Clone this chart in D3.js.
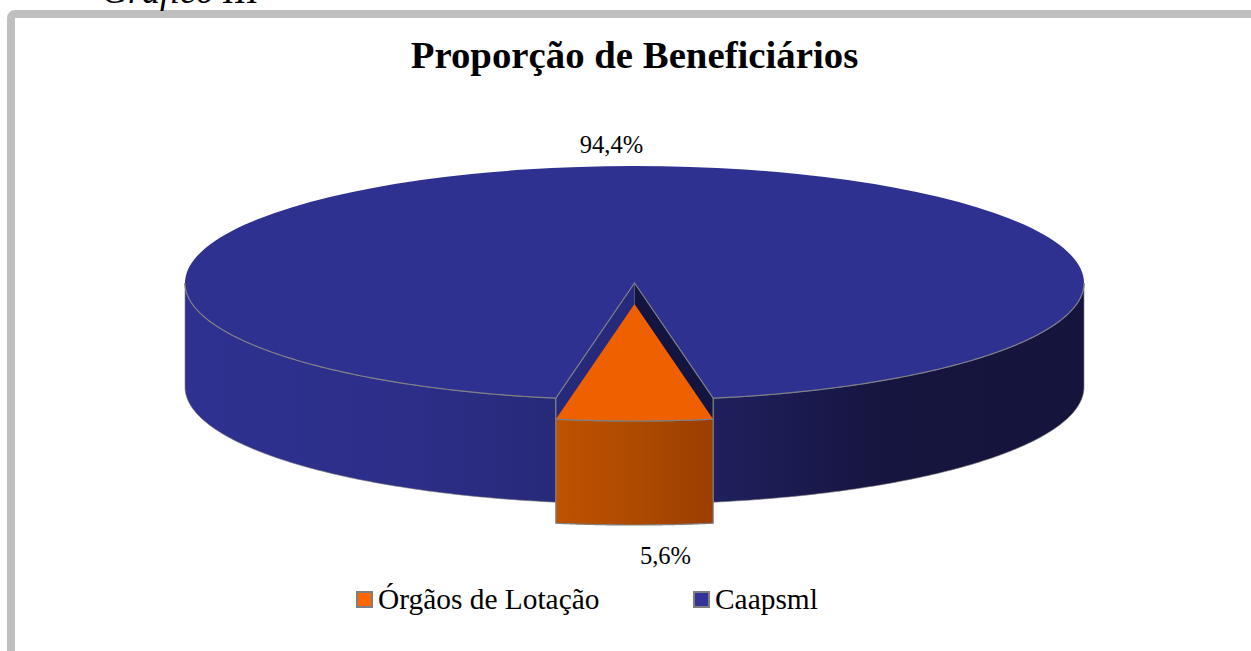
<!DOCTYPE html>
<html>
<head>
<meta charset="utf-8">
<script src="https://cdnjs.cloudflare.com/ajax/libs/d3/7.8.5/d3.min.js"></script>
<style>
html, body { margin: 0; padding: 0; background: #fff; overflow: hidden; }
text { font-family: "Liberation Serif", serif; fill: #000; }
</style>
</head>
<body>
<svg id="chart"></svg>
<script>
var width = 1251,
    height = 651;

var chartTitle = "Proporção de Beneficiários";
var captionText = "Gráfico III";
var categories = ["Órgãos de Lotação", "Caapsml"];
var values = [5.6, 94.4];
var topColors = ["#ef6000", "#2e3190"];
var legendColors = ["#ff6600", "#333399"];

var depth = 104,
    explode = 21;

var svg = d3.select("#chart")
    .attr("width", width)
    .attr("height", height);

// ellipse of the pie top, unit circle -> pixels
var xScale = d3.scaleLinear().domain([-1, 1]).range([185, 1084]);
var yScale = d3.scaleLinear().domain([-1, 1]).range([166, 400]);

// slice of orange sits centered at the bottom
var share = values[0] / d3.sum(values) * 2 * Math.PI;
var pie = d3.pie().sort(null).value(function(d) { return d; })
    .startAngle(Math.PI - share / 2)
    .endAngle(3 * Math.PI - share / 2);
var slices = pie(values);

function px(a) { return xScale(Math.sin(a)); }
function py(a) { return yScale(-Math.cos(a)); }

function rimPoints(a0, a1, dy) {
    return d3.range(0, 121).map(function(i) {
        var a = a0 + (a1 - a0) * i / 120;
        return [px(a), py(a) + dy];
    });
}

var line = d3.line();

var defs = svg.append("defs");

var blueGrad = defs.append("linearGradient")
    .attr("id", "sideBlue")
    .attr("gradientUnits", "userSpaceOnUse")
    .attr("x1", xScale(-1)).attr("x2", xScale(1))
    .attr("y1", 0).attr("y2", 0);
[[0, "#2e3190"], [0.25, "#2c2e88"], [0.41, "#272a79"], [0.59, "#201f5e"], [0.78, "#15153f"], [1, "#14143c"]].forEach(function(s) {
    blueGrad.append("stop").attr("offset", s[0]).attr("stop-color", s[1]);
});

// orange slice runs from endAngle (left) to startAngle (right)
var orangeGrad = defs.append("linearGradient")
    .attr("id", "sideOrange")
    .attr("gradientUnits", "userSpaceOnUse")
    .attr("x1", px(slices[0].endAngle)).attr("x2", px(slices[0].startAngle))
    .attr("y1", 0).attr("y2", 0);
orangeGrad.append("stop").attr("offset", 0).attr("stop-color", "#bf5300");
orangeGrad.append("stop").attr("offset", 0.5).attr("stop-color", "#ae4a00");
orangeGrad.append("stop").attr("offset", 1).attr("stop-color", "#9b3e00");

// grey frame, runs off the right and bottom of the picture
svg.append("rect")
    .attr("x", 11).attr("y", 14)
    .attr("width", width + 40).attr("height", height + 40)
    .attr("rx", 4)
    .attr("fill", "#fff")
    .attr("stroke", "#bfbfbf")
    .attr("stroke-width", 8);

svg.append("text")
    .attr("x", 102).attr("y", 3)
    .attr("font-size", 36)
    .attr("font-style", "italic")
    .text(captionText);

svg.append("text")
    .attr("x", 634.5).attr("y", 68)
    .attr("text-anchor", "middle")
    .attr("font-size", 38.8)
    .attr("font-weight", "bold")
    .text(chartTitle);

var main = slices[1],
    small = slices[0];
var cx = xScale(0), cy = yScale(0);

// front wall of the big slice, left and right of the gap
function band(a0, a1, dy, fill) {
    var upper = rimPoints(a0, a1, dy);
    var lower = rimPoints(a1, a0, dy + depth);
    svg.append("path")
        .attr("d", line(upper.concat(lower)) + "Z")
        .attr("fill", fill)
        .attr("stroke", "#7f7f7f")
        .attr("stroke-opacity", 0.6)
        .attr("stroke-width", 1);
}
band(small.endAngle, Math.PI * 1.5, 0, "url(#sideBlue)");
band(Math.PI / 2, small.startAngle, 0, "url(#sideBlue)");

// top of the big slice
var arc = d3.arc().innerRadius(0).outerRadius(1);
svg.append("path")
    .attr("d", arc(main))
    .attr("transform", "translate(" + cx + "," + cy + ") scale(" + (xScale(1) - cx) + "," + (yScale(1) - cy) + ")")
    .attr("fill", topColors[1]);

// inner walls seen in the gap
svg.append("path")
    .attr("d", line([[cx, cy], [px(small.endAngle), py(small.endAngle)], [px(small.endAngle), py(small.endAngle) + depth], [cx, cy + depth]]) + "Z")
    .attr("fill", "#272a7a");
svg.append("path")
    .attr("d", line([[cx, cy], [px(small.startAngle), py(small.startAngle)], [px(small.startAngle), py(small.startAngle) + depth], [cx, cy + depth]]) + "Z")
    .attr("fill", "#141440");

// grey edge along the front of the top face and round the gap
var edge = rimPoints(Math.PI * 1.5, small.endAngle, 0)
    .concat([[cx, cy]])
    .concat(rimPoints(small.startAngle, Math.PI / 2, 0));
svg.append("path")
    .attr("d", line(edge))
    .attr("fill", "none")
    .attr("stroke", "#7f7f86")
    .attr("stroke-width", 1.2);
[small.startAngle, small.endAngle].forEach(function(a) {
    svg.append("path")
        .attr("d", line([[px(a), py(a)], [px(a), py(a) + explode]]))
        .attr("stroke", "#7f7f86")
        .attr("stroke-width", 1.2);
});

// pulled-out orange slice
var slice = svg.append("g").attr("transform", "translate(0," + explode + ")");
var upper = rimPoints(small.startAngle, small.endAngle, 0);
var lower = rimPoints(small.endAngle, small.startAngle, depth);
slice.append("path")
    .attr("d", line(upper.concat(lower)) + "Z")
    .attr("fill", "url(#sideOrange)")
    .attr("stroke", "#7f7f7f")
    .attr("stroke-width", 1.2);
slice.append("path")
    .attr("d", line([[cx, cy]].concat(upper)) + "Z")
    .attr("fill", topColors[0]);
slice.append("path")
    .attr("d", line(upper))
    .attr("fill", "none")
    .attr("stroke", "#7f7f7f")
    .attr("stroke-width", 1.2);

// data labels
function pct(v) { return String(v).replace(".", ",") + "%"; }
var labelPos = [[665.5, 564], [611.5, 153]];
svg.selectAll("text.lab")
    .data(values)
    .enter().append("text")
    .attr("class", "lab")
    .attr("x", function(d, i) { return labelPos[i][0]; })
    .attr("y", function(d, i) { return labelPos[i][1]; })
    .attr("text-anchor", "middle")
    .attr("font-size", 24.6)
    .text(pct);

// legend
var legendX = [356, 693];
var legend = svg.selectAll("g.leg")
    .data(categories)
    .enter().append("g")
    .attr("class", "leg")
    .attr("transform", function(d, i) { return "translate(" + legendX[i] + ",591)"; });
legend.append("rect")
    .attr("x", 1).attr("y", 1)
    .attr("width", 15).attr("height", 15)
    .attr("fill", function(d, i) { return legendColors[i]; })
    .attr("stroke", "#7f7f7f")
    .attr("stroke-width", 2);
legend.append("text")
    .attr("x", 22).attr("y", 18)
    .attr("font-size", 29.4)
    .text(function(d) { return d; });
</script>
</body>
</html>
